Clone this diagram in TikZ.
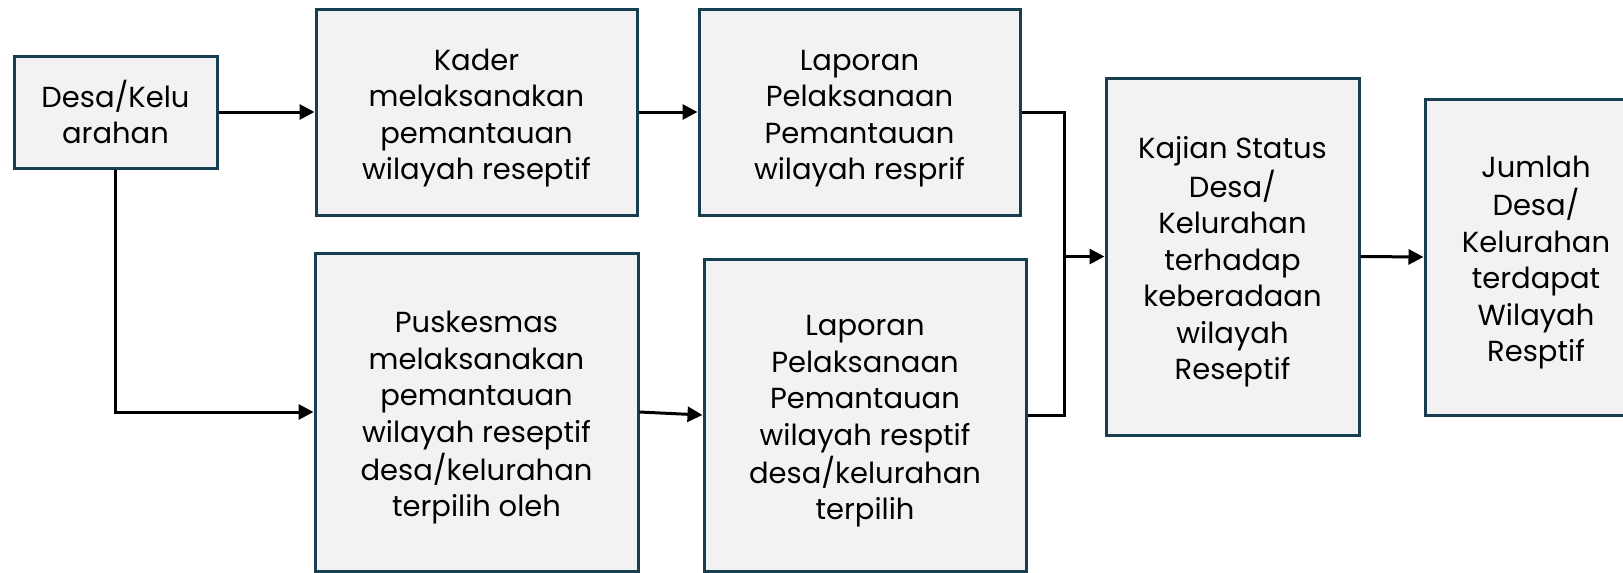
\documentclass[tikz,border=0pt]{standalone}
\usepackage{fontspec}
\setmainfont{Poppins}
\usetikzlibrary{arrows.meta}
\definecolor{boxedge}{HTML}{173F50}
\definecolor{boxfill}{HTML}{F2F2F2}
\newcommand\boxtxt[1]{\raisebox{-5.5pt}[\height][\depth]{\begin{tabular}{@{}c@{}}#1\end{tabular}}}
\tikzset{
  box/.style={draw=boxedge, fill=boxfill, line width=3pt, rectangle,
    inner sep=0pt, font=\fontsize{29}{36.5}\selectfont},
  conn/.style={draw=black, line width=3pt, -{Triangle[length=15pt,width=15pt]}},
  plain/.style={draw=black, line width=3pt}
}
\begin{document}
\begin{tikzpicture}[x=1pt,y=-1pt]
\useasboundingbox (0,0) rectangle (1623,573);
\node[box, minimum width=203pt, minimum height=112pt] (a) at (115.5,112) {\boxtxt{Desa/Kelu\\arahan}};
\node[box, minimum width=321pt, minimum height=206pt] (b) at (476.5,112) {\boxtxt{Kader\\melaksanakan\\pemantauan\\wilayah reseptif}};
\node[box, minimum width=321pt, minimum height=206pt] (c) at (859.5,112) {\boxtxt{Laporan\\Pelaksanaan\\Pemantauan\\wilayah resprif}};
\node[box, minimum width=323pt, minimum height=318pt] (d) at (476.5,412) {\boxtxt{Puskesmas\\melaksanakan\\pemantauan\\wilayah reseptif\\desa/kelurahan\\terpilih oleh}};
\node[box, minimum width=322pt, minimum height=312pt] (e) at (865,415) {\boxtxt{Laporan\\Pelaksanaan\\Pemantauan\\wilayah resptif\\desa/kelurahan\\terpilih}};
\node[box, minimum width=253pt, minimum height=357pt] (f) at (1232.5,256.5) {\boxtxt{Kajian Status\\Desa/\\Kelurahan\\terhadap\\keberadaan\\wilayah\\Reseptif}};
\node[box, minimum width=222pt, minimum height=316pt] (g) at (1536,257) {\boxtxt{Jumlah\\Desa/\\Kelurahan\\terdapat\\Wilayah\\Resptif}};
\coordinate (m) at (1064.5,256.5);
\draw[conn] (a.east) -- (b.west);
\draw[conn] (a.south) |- (d.west);
\draw[conn] (b.east) -- (c.west);
\draw[conn] (d.east) -- (e.west);
\draw[plain] (c.east) -| (m);
\draw[plain] (e.east) -| (m);
\draw[conn] (m) -- (f.west);
\draw[conn] (f.east) -- (g.west);
\end{tikzpicture}
\end{document}
